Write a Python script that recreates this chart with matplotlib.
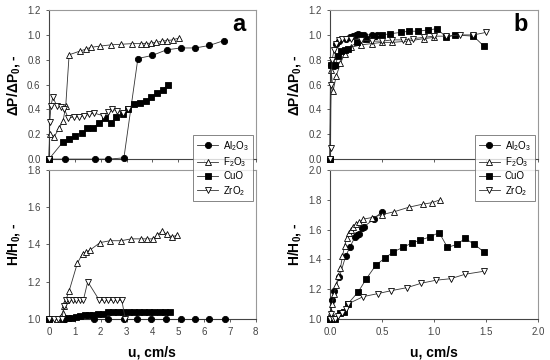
import numpy as np
import matplotlib
matplotlib.use('Agg')
import matplotlib.pyplot as plt
from matplotlib.lines import Line2D

plt.rcParams['font.family'] = ['Liberation Sans', 'DejaVu Sans']
plt.rcParams['mathtext.default'] = 'regular'

# ---------------- panel a, top: dP/dP0 ----------------
a_top_al_x = [0, 0.64, 1.8, 2.3, 2.9, 3.44, 4.0, 4.55, 5.1, 5.66, 6.2, 6.78]
a_top_al_y = [0, 0, 0, 0, 0.01, 0.81, 0.835, 0.88, 0.895, 0.895, 0.915, 0.955]
a_top_fe_x = [0, 0.03, 0.2, 0.4, 0.55, 0.65, 0.78, 1.2, 1.42, 1.62, 1.97, 2.39, 2.8, 3.23,
              3.58, 3.77, 3.96, 4.16, 4.37, 4.58, 4.78, 5.03]
a_top_fe_y = [0, 0.2, 0.18, 0.25, 0.31, 0.43, 0.84, 0.87, 0.885, 0.9, 0.91, 0.92, 0.925, 0.93,
              0.93, 0.93, 0.935, 0.94, 0.95, 0.955, 0.96, 0.975]
a_top_cu_x = [0, 0.55, 0.79, 1.0, 1.26, 1.48, 1.69, 1.93, 2.16, 2.39, 2.61, 2.87, 3.06, 3.3,
              3.52, 3.74, 3.96, 4.18, 4.4, 4.6]
a_top_cu_y = [0, 0.14, 0.16, 0.19, 0.21, 0.25, 0.25, 0.29, 0.33, 0.29, 0.34, 0.36, 0.4, 0.44,
              0.45, 0.47, 0.5, 0.53, 0.56, 0.6]
a_top_zr_x = [0, 0.03, 0.08, 0.15, 0.3, 0.45, 0.6, 0.75, 0.95, 1.15, 1.35, 1.55, 1.75, 2.1,
              2.3, 2.45, 2.65, 2.85, 3.05]
a_top_zr_y = [0, 0.3, 0.43, 0.5, 0.43, 0.42, 0.4, 0.33, 0.34, 0.34, 0.35, 0.36, 0.37, 0.35,
              0.38, 0.4, 0.39, 0.37, 0.4]

# ---------------- panel a, bottom: H/H0 ----------------
a_bot_al_x = [0, 0.64, 1.76, 2.3, 2.92, 3.4, 3.96, 4.53, 5.09, 5.64, 6.21, 6.8]
a_bot_al_y = [1.0] * 12
a_bot_fe_x = [0, 0.3, 0.55, 0.58, 0.65, 0.78, 1.1, 1.3, 1.45, 1.59, 1.98, 2.37, 2.8, 3.18,
              3.57, 3.8, 4.03, 4.17, 4.37, 4.56, 4.76, 4.96]
a_bot_fe_y = [1.0, 1.0, 1.03, 1.07, 1.1, 1.15, 1.3, 1.35, 1.36, 1.37, 1.41, 1.42, 1.42, 1.43,
              1.43, 1.43, 1.43, 1.45, 1.47, 1.455, 1.44, 1.45]
a_bot_cu_x = [0, 0.55, 0.75, 0.9, 1.05, 1.2, 1.38, 1.55, 1.72, 1.9, 2.08, 2.3, 2.48, 2.68,
              2.88, 3.08, 3.28, 3.48, 3.68, 3.88, 4.08, 4.28, 4.48, 4.7]
a_bot_cu_y = [1.0, 1.0, 1.003, 1.007, 1.012, 1.018, 1.02, 1.022, 1.022, 1.025, 1.025, 1.035,
              1.035, 1.035, 1.035, 1.035, 1.035, 1.035, 1.035, 1.035, 1.035, 1.035, 1.035, 1.035]
a_bot_zr_x = [0, 0.2, 0.35, 0.5, 0.58, 0.65, 0.78, 0.92, 1.06, 1.2, 1.33, 1.5, 1.95, 2.12,
              2.3, 2.48, 2.65, 2.82, 2.95]
a_bot_zr_y = [1, 1, 1, 1, 1.07, 1.1, 1.1, 1.1, 1.1, 1.1, 1.1, 1.2, 1.1, 1.1,
              1.1, 1.1, 1.1, 1.1, 1.0]

# ---------------- panel b, top: dP/dP0 ----------------
b_top_al_x = [0, 0.005, 0.04, 0.06, 0.09, 0.15, 0.19, 0.22, 0.25, 0.27, 0.3, 0.33, 0.4, 0.42, 0.45]
b_top_al_y = [0, 0.76, 0.75, 0.93, 0.95, 0.97, 0.98, 0.99, 1.0, 1.01, 1.0, 1.0, 1.0, 0.99, 1.0]
b_top_fe_x = [0, 0.01, 0.03, 0.06, 0.1, 0.14, 0.2, 0.3, 0.4, 0.5, 0.6, 0.75, 0.9, 1.0]
b_top_fe_y = [0, 0.72, 0.55, 0.67, 0.77, 0.85, 0.9, 0.92, 0.93, 0.94, 0.94, 0.95, 0.97, 0.98]
b_top_cu_x = [0, 0.005, 0.05, 0.08, 0.11, 0.14, 0.17, 0.26, 0.35, 0.42, 0.5, 0.58, 0.68,
              0.76, 0.85, 0.94, 1.03, 1.12, 1.2, 1.38, 1.48]
b_top_cu_y = [0, 0.76, 0.76, 0.83, 0.87, 0.88, 0.89, 0.94, 0.97, 0.99, 1.0, 1.01, 1.02,
              1.03, 1.03, 1.04, 1.05, 0.98, 1.0, 0.99, 0.91]
b_top_zr_x = [0, 0.005, 0.01, 0.02, 0.04, 0.06, 0.09, 0.12, 0.15, 0.2, 0.3, 0.4, 0.5, 0.6,
              0.7, 0.8, 0.9, 1.0, 1.12, 1.25, 1.38, 1.5]
b_top_zr_y = [0, 0.09, 0.6, 0.8, 0.88, 0.93, 0.96, 0.97, 0.97, 0.97, 0.96, 0.95, 0.95, 0.96,
              0.96, 0.97, 0.98, 0.99, 0.99, 1.0, 1.0, 1.02]

# ---------------- panel b, bottom: H/H0 ----------------
b_bot_al_x = [0, 0.02, 0.04, 0.09, 0.15, 0.19, 0.24, 0.26, 0.28, 0.31, 0.33, 0.42, 0.5]
b_bot_al_y = [1.0, 1.13, 1.19, 1.28, 1.42, 1.48, 1.55, 1.56, 1.57, 1.61, 1.62, 1.67, 1.72]
b_bot_fe_x = [0, 0.01, 0.02, 0.04, 0.06, 0.08, 0.1, 0.12, 0.14, 0.16, 0.18, 0.2, 0.22, 0.25,
              0.28, 0.32, 0.4, 0.5, 0.62, 0.76, 0.89, 0.98, 1.06]
b_bot_fe_y = [1.0, 1.05, 1.1, 1.17, 1.23, 1.29, 1.34, 1.42, 1.49, 1.54, 1.58, 1.6, 1.62, 1.64,
              1.65, 1.67, 1.68, 1.7, 1.72, 1.75, 1.77, 1.78, 1.8]
b_bot_cu_x = [0, 0.02, 0.05, 0.1, 0.13, 0.17, 0.27, 0.35, 0.44, 0.53, 0.61, 0.7, 0.79, 0.87,
              0.96, 1.05, 1.13, 1.22, 1.3, 1.39, 1.48]
b_bot_cu_y = [1.0, 1.0, 1.0, 1.04, 1.05, 1.1, 1.18, 1.27, 1.36, 1.41, 1.45, 1.48, 1.51, 1.53,
              1.55, 1.58, 1.48, 1.5, 1.54, 1.5, 1.45]
b_bot_zr_x = [0, 0.01, 0.03, 0.05, 0.08, 0.12, 0.15, 0.17, 0.32, 0.46, 0.59, 0.74, 0.88,
              1.02, 1.16, 1.3, 1.48]
b_bot_zr_y = [1.0, 1.03, 1.0, 1.0, 1.02, 1.04, 1.07, 1.1, 1.15, 1.17, 1.19, 1.21, 1.24,
              1.26, 1.27, 1.3, 1.32]

labels = ['Al$_2$O$_3$', 'F$_2$O$_3$', 'CuO', 'ZrO$_2$']
styles = [dict(marker='o', mfc='black'), dict(marker='^', mfc='white'),
          dict(marker='s', mfc='black'), dict(marker='v', mfc='white')]

fig = plt.figure(figsize=(5.5, 3.6), dpi=100)
ax_at = fig.add_axes([0.089, 0.558, 0.376, 0.414])
ax_ab = fig.add_axes([0.089, 0.114, 0.376, 0.414])
ax_bt = fig.add_axes([0.6, 0.558, 0.378, 0.414])
ax_bb = fig.add_axes([0.6, 0.114, 0.378, 0.414])

panels = [
    (ax_at, [(a_top_al_x, a_top_al_y), (a_top_fe_x, a_top_fe_y), (a_top_cu_x, a_top_cu_y), (a_top_zr_x, a_top_zr_y)]),
    (ax_ab, [(a_bot_al_x, a_bot_al_y), (a_bot_fe_x, a_bot_fe_y), (a_bot_cu_x, a_bot_cu_y), (a_bot_zr_x, a_bot_zr_y)]),
    (ax_bt, [(b_top_al_x, b_top_al_y), (b_top_fe_x, b_top_fe_y), (b_top_cu_x, b_top_cu_y), (b_top_zr_x, b_top_zr_y)]),
    (ax_bb, [(b_bot_al_x, b_bot_al_y), (b_bot_fe_x, b_bot_fe_y), (b_bot_cu_x, b_bot_cu_y), (b_bot_zr_x, b_bot_zr_y)]),
]

for ax, series in panels:
    for (x, y), st in zip(series, styles):
        ax.plot(x, y, color='#333333', lw=0.6, marker=st['marker'], mfc=st['mfc'],
                mec='black', mew=0.6, ms=4.5, clip_on=False, zorder=3)
    for s in ['top', 'right']:
        ax.spines[s].set_color('#999999')
    for s in ['left', 'bottom']:
        ax.spines[s].set_color('#444444')
    for s in ax.spines.values():
        s.set_linewidth(0.8)
    ax.tick_params(labelsize=7, colors='#444444', length=2.5, width=0.6)

# left column
for ax in (ax_at, ax_ab):
    ax.set_xlim(0, 8)
    ax.set_xticks(np.arange(0, 9, 1))
ax_at.set_xticklabels([])
ax_at.set_ylim(0, 1.2)
ax_at.set_yticks(np.arange(0, 1.21, 0.2))
ax_ab.set_ylim(1.0, 1.8)
ax_ab.set_yticks(np.arange(1.0, 1.81, 0.2))

# right column
for ax in (ax_bt, ax_bb):
    ax.set_xlim(0, 2.0)
    ax.set_xticks(np.arange(0, 2.01, 0.5))
ax_bt.set_xticklabels([])
ax_bt.set_ylim(0, 1.2)
ax_bt.set_yticks(np.arange(0, 1.21, 0.2))
ax_bb.set_ylim(1.0, 2.0)
ax_bb.set_yticks(np.arange(1.0, 2.01, 0.2))

for ax in (ax_at, ax_ab, ax_bt, ax_bb):
    ax.yaxis.set_major_formatter(matplotlib.ticker.FormatStrFormatter('%.1f'))
ax_bb.xaxis.set_major_formatter(matplotlib.ticker.FormatStrFormatter('%.1f'))

for ax in (ax_at, ax_bt):
    ax.set_ylabel(r'$\Delta$P/$\Delta$P$_0$, -', fontsize=10, fontweight='bold', labelpad=4)
for ax in (ax_ab, ax_bb):
    ax.set_ylabel('H/H$_0$, -', fontsize=10, fontweight='bold', labelpad=4)
    ax.set_xlabel('u, cm/s', fontsize=10, fontweight='bold', labelpad=6)

ax_at.text(0.95, 0.9, 'a', transform=ax_at.transAxes, fontsize=17, fontweight='bold',
           ha='right', va='center')
ax_bt.text(0.95, 0.9, 'b', transform=ax_bt.transAxes, fontsize=17, fontweight='bold',
           ha='right', va='center')

handles = [Line2D([], [], color='#333333', lw=0.6, marker=st['marker'], mfc=st['mfc'],
                  mec='black', mew=0.6, ms=4.5) for st in styles]
for x0 in (0.351, 0.863):
    leg = fig.legend(handles, labels, loc='upper left', bbox_to_anchor=(x0, 0.625),
                     fontsize=7, frameon=True, fancybox=False, edgecolor='#666666',
                     handlelength=2.2, handletextpad=0.5, borderpad=0.4, labelspacing=0.25,
                     borderaxespad=0)
    leg.get_frame().set_linewidth(0.7)

plt.savefig('out.png', dpi=100)
